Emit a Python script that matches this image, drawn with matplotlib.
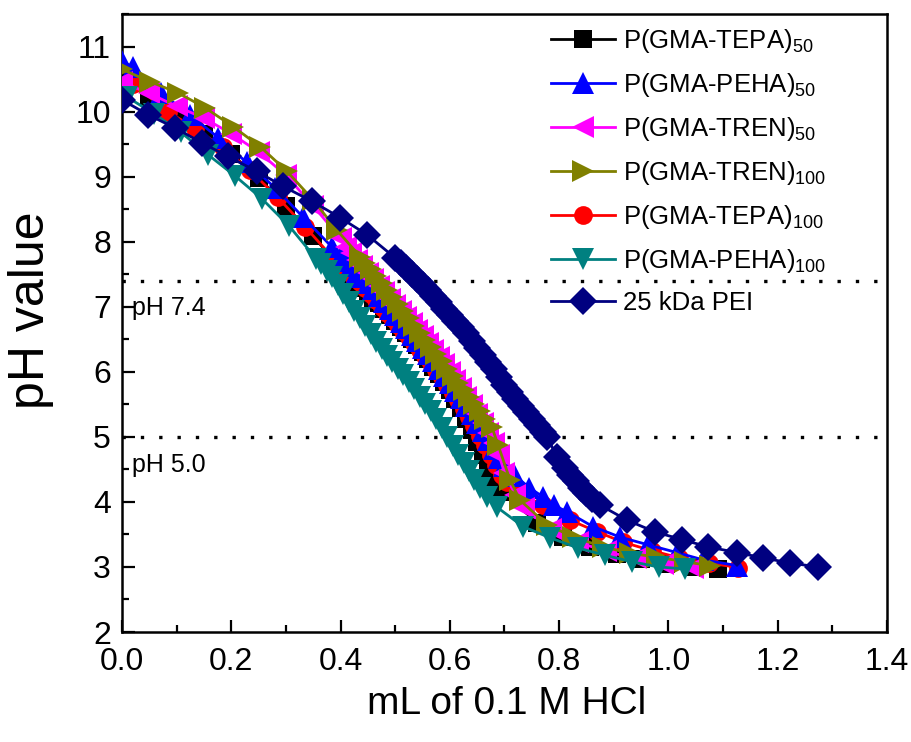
import matplotlib
matplotlib.use("Agg")
import matplotlib.pyplot as plt
from matplotlib.ticker import MultipleLocator, FormatStrFormatter

plt.rcParams['font.family'] = ['Liberation Sans', 'DejaVu Sans']
plt.rcParams['mathtext.fontset'] = 'custom'
plt.rcParams['mathtext.rm'] = 'Liberation Sans'
plt.rcParams['mathtext.default'] = 'regular'

# ---------------- data ----------------
labels = ['P(GMA-TEPA)$_{50}$', 'P(GMA-PEHA)$_{50}$', 'P(GMA-TREN)$_{50}$',
          'P(GMA-TREN)$_{100}$', 'P(GMA-TEPA)$_{100}$', 'P(GMA-PEHA)$_{100}$',
          '25 kDa PEI']

tepa50_x = [0.0, 0.05, 0.10, 0.15, 0.20, 0.25, 0.30, 0.35, 0.40,
            0.41, 0.42, 0.43, 0.44, 0.45, 0.46, 0.47, 0.48, 0.49, 0.50,
            0.51, 0.52, 0.53, 0.54, 0.55, 0.56, 0.57, 0.58, 0.59, 0.60,
            0.61, 0.62, 0.63, 0.64, 0.65, 0.66, 0.67, 0.68, 0.695,
            0.76, 0.807, 0.857, 0.905, 0.95, 0.995, 1.043, 1.09]
tepa50_y = [10.50, 10.22, 9.95, 9.66, 9.35, 8.98, 8.55, 8.08, 7.60,
            7.52, 7.45, 7.37, 7.29, 7.21, 7.13, 7.05, 6.96, 6.87, 6.78,
            6.69, 6.60, 6.51, 6.41, 6.30, 6.19, 6.08, 5.97, 5.85, 5.72,
            5.58, 5.44, 5.28, 5.10, 4.92, 4.72, 4.52, 4.35, 4.15,
            3.68, 3.46, 3.30, 3.20, 3.12, 3.05, 3.00, 2.97]

peha50_x = [0.0, 0.02, 0.072, 0.124, 0.176, 0.228, 0.28, 0.331, 0.384,
            0.40, 0.41, 0.42, 0.43, 0.44, 0.45, 0.46, 0.47, 0.48, 0.49, 0.50,
            0.51, 0.52, 0.53, 0.54, 0.55, 0.56, 0.57, 0.58, 0.59, 0.60,
            0.61, 0.62, 0.63, 0.64, 0.65, 0.66, 0.67, 0.68, 0.69, 0.70,
            0.72, 0.745, 0.77, 0.79, 0.814, 0.862, 0.911, 0.963, 1.016,
            1.063, 1.126]
peha50_y = [10.78, 10.68, 10.28, 9.95, 9.60, 9.22, 8.83, 8.38, 7.92,
            7.78, 7.70, 7.62, 7.54, 7.46, 7.37, 7.27, 7.17, 7.07, 6.97, 6.87,
            6.77, 6.67, 6.57, 6.47, 6.37, 6.27, 6.16, 6.05, 5.94, 5.83,
            5.71, 5.59, 5.47, 5.35, 5.22, 5.09, 4.95, 4.81, 4.67, 4.55,
            4.40, 4.22, 4.08, 3.95, 3.85, 3.62, 3.46, 3.34, 3.22,
            3.11, 3.02]

tren50_x = [0.0, 0.05, 0.10, 0.15, 0.20, 0.25, 0.30, 0.35, 0.40,
            0.41, 0.42, 0.43, 0.44, 0.45, 0.46, 0.47, 0.48, 0.49, 0.50,
            0.51, 0.52, 0.53, 0.54, 0.55, 0.56, 0.57, 0.58, 0.59, 0.60,
            0.61, 0.62, 0.63, 0.64, 0.65, 0.66, 0.67, 0.68, 0.69, 0.70,
            0.72, 0.735, 0.785, 0.835, 0.885, 0.94, 0.99, 1.045]
tren50_y = [10.45, 10.28, 10.08, 9.90, 9.66, 9.38, 9.02, 8.55, 8.05,
            7.92, 7.82, 7.72, 7.62, 7.52, 7.42, 7.32, 7.22, 7.12, 7.02,
            6.93, 6.84, 6.75, 6.65, 6.55, 6.45, 6.34, 6.23, 6.12, 6.00,
            5.88, 5.75, 5.62, 5.49, 5.35, 5.21, 5.06, 4.90, 4.72, 4.45,
            4.10, 3.90, 3.58, 3.38, 3.24, 3.13, 3.05, 2.98]

tren100_x = [0.0, 0.051, 0.102, 0.152, 0.203, 0.253, 0.302, 0.35, 0.393,
             0.436, 0.445, 0.455, 0.465, 0.475, 0.485, 0.495, 0.505, 0.515,
             0.525, 0.535, 0.545, 0.555, 0.565, 0.575, 0.585, 0.595, 0.605,
             0.615, 0.625, 0.635, 0.645, 0.655, 0.665, 0.677, 0.688, 0.71,
             0.728, 0.778, 0.826, 0.88, 0.93, 0.98, 1.03, 1.076]
tren100_y = [10.65, 10.46, 10.29, 10.06, 9.77, 9.46, 9.08, 8.64, 8.18,
             7.77, 7.68, 7.58, 7.47, 7.37, 7.26, 7.15, 7.04, 6.93,
             6.82, 6.71, 6.60, 6.49, 6.38, 6.27, 6.16, 6.05, 5.94,
             5.83, 5.72, 5.61, 5.50, 5.39, 5.28, 5.15, 4.88, 4.34,
             4.03, 3.65, 3.46, 3.31, 3.21, 3.15, 3.08, 3.02]

tepa100_x = [0.02, 0.084, 0.134, 0.184, 0.234, 0.285, 0.335, 0.384,
             0.395, 0.405, 0.415, 0.425, 0.435, 0.445, 0.455, 0.465, 0.475,
             0.485, 0.495, 0.505, 0.515, 0.525, 0.535, 0.545, 0.555, 0.565,
             0.575, 0.585, 0.595, 0.605, 0.615, 0.625, 0.635, 0.645, 0.655,
             0.665, 0.675, 0.685, 0.695, 0.705,
             0.725, 0.77, 0.82, 0.87, 0.917, 0.97, 1.02, 1.075, 1.128]
tepa100_y = [10.42, 10.00, 9.74, 9.45, 9.10, 8.68, 8.23, 7.77,
             7.68, 7.60, 7.53, 7.46, 7.38, 7.29, 7.19, 7.10, 7.00,
             6.91, 6.82, 6.72, 6.63, 6.54, 6.44, 6.34, 6.24, 6.14,
             6.03, 5.92, 5.80, 5.68, 5.56, 5.43, 5.30, 5.16, 5.02,
             4.88, 4.72, 4.56, 4.42, 4.30,
             4.15, 3.95, 3.72, 3.54, 3.38, 3.25, 3.14, 3.06, 2.99]

peha100_x = [0.01, 0.058, 0.108, 0.157, 0.207, 0.256, 0.306, 0.355,
             0.365, 0.375, 0.385, 0.395, 0.405, 0.415, 0.425, 0.435, 0.445,
             0.455, 0.465, 0.475, 0.485, 0.495, 0.505, 0.515, 0.525, 0.535,
             0.545, 0.555, 0.565, 0.575, 0.585, 0.595, 0.605, 0.615, 0.625,
             0.635, 0.645, 0.655, 0.668, 0.686,
             0.734, 0.783, 0.835, 0.884, 0.933, 0.982, 1.03]
peha100_y = [10.22, 9.97, 9.68, 9.34, 9.01, 8.66, 8.24, 7.74,
             7.65, 7.55, 7.45, 7.33, 7.20, 7.07, 6.93, 6.82, 6.70,
             6.58, 6.46, 6.35, 6.25, 6.15, 6.05, 5.95, 5.85, 5.74,
             5.62, 5.50, 5.39, 5.27, 5.13, 5.00, 4.86, 4.72, 4.60,
             4.47, 4.34, 4.22, 4.08, 3.92,
             3.62, 3.45, 3.29, 3.18, 3.08, 3.00, 2.97]

pei_x = [0.0, 0.048, 0.097, 0.146, 0.194, 0.247, 0.295, 0.348, 0.399, 0.448,
         0.50, 0.51, 0.52, 0.53, 0.54, 0.55, 0.56, 0.57, 0.58, 0.59, 0.60,
         0.61, 0.62, 0.63, 0.64, 0.65, 0.66, 0.67, 0.68, 0.69, 0.70,
         0.71, 0.72, 0.73, 0.74, 0.75, 0.76, 0.77, 0.778, 0.796,
         0.81, 0.82, 0.83, 0.84, 0.85, 0.86, 0.875,
         0.924, 0.975, 1.025, 1.072, 1.126, 1.173, 1.223, 1.274]
pei_y = [10.18, 9.95, 9.75, 9.52, 9.31, 9.08, 8.85, 8.62, 8.37, 8.11,
         7.75, 7.67, 7.59, 7.51, 7.43, 7.34, 7.25, 7.16, 7.07, 6.97, 6.88,
         6.78, 6.69, 6.59, 6.48, 6.37, 6.26, 6.15, 6.04, 5.92, 5.80,
         5.69, 5.58, 5.48, 5.38, 5.28, 5.18, 5.08, 5.00, 4.69,
         4.52, 4.42, 4.32, 4.22, 4.13, 4.05, 3.95,
         3.72, 3.54, 3.42, 3.31, 3.22, 3.14, 3.06, 3.00]

ref_levels = [7.4, 5.0]
ref_texts = ['pH 7.4', 'pH 5.0']

# ---------------- figure ----------------
fig = plt.figure(figsize=(9.12, 7.42), dpi=100)
ax = fig.add_axes([122/912, 1 - 632/742, (887-122)/912, (632-14)/742])

series = [
    (tepa50_x, tepa50_y, '#000000', 's', 12.5, 2),
    (peha50_x, peha50_y, '#0000FF', '^', 16, 4),
    (tren50_x, tren50_y, '#FF00FF', '<', 16, 5),
    (tren100_x, tren100_y, '#808000', '>', 16, 6),
    (tepa100_x, tepa100_y, '#FF0000', 'o', 13.5, 3),
    (peha100_x, peha100_y, '#008080', 'v', 16, 7),
    (pei_x, pei_y, '#000080', 'D', 14.5, 8),
]
handles = []
for (xs, ys, c, m, ms, z), lab in zip(series, labels):
    h, = ax.plot(xs, ys, color=c, marker=m, markersize=ms, linewidth=2.0,
                 markeredgewidth=0, label=lab, zorder=z)
    handles.append(h)

for lev in ref_levels:
    ax.axhline(lev, color='black', linestyle=(0, (1, 4.5)), linewidth=2.4,
               zorder=1)
ax.text(0.018, 6.98, ref_texts[0], fontsize=18, va='center', ha='left')
ax.text(0.018, 4.57, ref_texts[1], fontsize=18, va='center', ha='left')

ax.set_xlim(0, 1.4)
ax.set_ylim(2, 11.5)
ax.xaxis.set_major_locator(MultipleLocator(0.2))
ax.xaxis.set_minor_locator(MultipleLocator(0.1))
ax.yaxis.set_major_locator(MultipleLocator(1))
ax.yaxis.set_minor_locator(MultipleLocator(0.5))
ax.xaxis.set_major_formatter(FormatStrFormatter('%.1f'))
ax.tick_params(which='both', direction='in', top=False, right=False,
               labelsize=23, width=1.6)
ax.tick_params(which='major', length=9, pad=8)
ax.tick_params(axis='x', which='major', pad=11)
ax.tick_params(which='minor', length=5)
for sp in ax.spines.values():
    sp.set_linewidth(1.8)

ax.set_xlabel('mL of 0.1 M HCl', fontsize=28)
ax.xaxis.set_label_coords((507-122)/(887-122), -(686-632)/(632-14))
ax.set_ylabel('pH value', fontsize=36)
ax.yaxis.set_label_coords(-(122-54)/(887-122), (632-310)/(632-14))

leg = ax.legend(handles=handles, loc='upper left',
                bbox_to_anchor=(551/912, 1 - 27/742),
                bbox_transform=fig.transFigure, frameon=False,
                fontsize=18.5, handlelength=2.5, handletextpad=0.3,
                labelspacing=0.62, borderpad=0, borderaxespad=0)

fig.savefig('out.png', dpi=100)
